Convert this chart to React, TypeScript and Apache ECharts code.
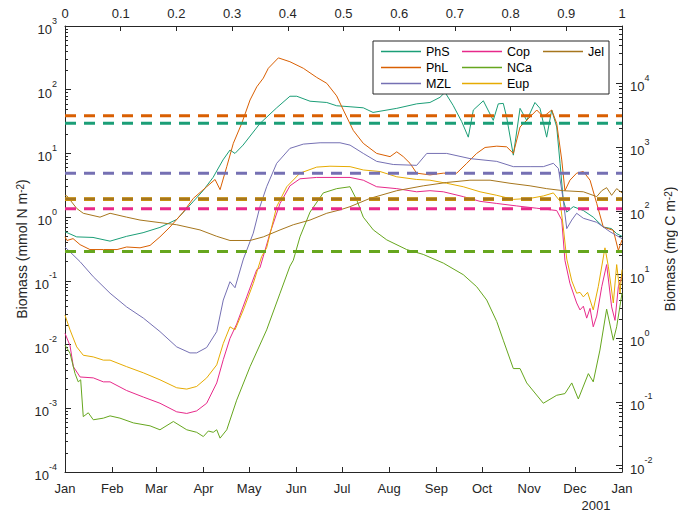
import React, { useEffect, useRef } from 'react';
import * as echarts from 'echarts';

// ---------- axis / tick data ----------
const monthLabels = ['Jan', 'Feb', 'Mar', 'Apr', 'May', 'Jun', 'Jul', 'Aug', 'Sep', 'Oct', 'Nov', 'Dec', 'Jan'];
const monthStartDays = [0, 31, 60, 91, 121, 152, 182, 213, 244, 274, 305, 335, 366];
const yearLabel = '2001';
const carbonPerNitrogen = 79.5; // mg C per mmol N

// ---------- series (day of year, mmol N m-2) ----------
const seriesNames = ['PhS', 'PhL', 'MZL', 'Cop', 'NCa', 'Eup', 'Jel'];
const seriesColors = ['#1b9e77', '#d95f02', '#7570b3', '#e7298a', '#66a61e', '#e6ab02', '#a6761d'];

const phs = [[0,0.59],[7.7,0.49],[18.4,0.48],[29.6,0.42],[40.5,0.5],[51.3,0.57],[62.4,0.69],[73.4,0.92],[84.1,1.74],[90.7,2.6],[97.3,4.2],[103.8,7.9],[108.4,11.3],[111.7,10],[117,13.5],[128.1,29.5],[139.1,52],[147.8,79],[152.3,79],[161,66],[172,63],[178.5,56],[187.3,54],[196,52],[202.4,44],[218,51],[231.1,60],[239.8,63],[246.4,76],[249.7,91],[255,57],[260.7,31.5],[265,18],[268.3,48],[274.9,67],[281.4,33],[284.7,60],[288,61],[290.2,37],[294.6,9.4],[299,51],[303.4,33],[308.8,63],[312.1,51],[316.5,18],[319.8,48],[323.1,26],[325.3,7],[327.4,1.86],[329.7,1.2],[334,1.46],[340.6,1.27],[347.1,1.0],[353.7,0.7],[359.2,0.66],[362.5,0.55],[366,0.5]];
const phl = [[0,0.49],[1.3,0.43],[5.3,0.46],[9.9,0.37],[16.4,0.31],[25.2,0.31],[34.2,0.31],[40.5,0.34],[49.3,0.33],[55.9,0.36],[62.4,0.49],[69,0.7],[77.7,1.2],[84.3,1.97],[93.1,3.0],[98.6,3.9],[101.9,2.7],[106.3,6.2],[110.6,14.4],[116.1,29.5],[121.6,69],[126,111],[130.3,152],[133.6,217],[140.2,316],[147.8,275],[156.6,217],[165.4,156],[172,126],[178.5,80],[182.9,48],[189.4,23],[196,14.4],[204.8,10],[213.6,8.9],[218,10.6],[222.3,8.9],[226.7,7],[231.1,4.9],[239.8,4.6],[248.6,4.9],[257.4,4.9],[264,7],[270.5,10],[276,12.4],[283.7,13],[290.2,12.7],[294.6,10],[299,26],[305.6,37.5],[310,48],[314.3,37.5],[319.8,48],[323.1,29.6],[326.4,7.9],[328.5,2.6],[331.8,3.8],[336.2,4.9],[340.6,5.2],[345,3.8],[349.4,1.64],[353.7,0.7],[360.3,0.62],[363.6,0.3],[366,0.44]];
const mzl = [[0,0.34],[9.9,0.2],[18.6,0.116],[29.6,0.064],[40.5,0.039],[51.5,0.026],[62.4,0.016],[73.4,0.0092],[82.1,0.0074],[86.5,0.0074],[93.1,0.009],[99.7,0.016],[104,0.05],[108.4,0.097],[111.7,0.078],[117.2,0.22],[123.7,0.56],[128.1,1.46],[132.5,3.0],[139.1,7.0],[147.8,12],[156.6,14],[167.6,14.7],[180.7,14.7],[187.3,13.5],[196,10],[204.8,7.5],[215.7,6.7],[231.1,6.5],[237.7,10],[250.8,10],[266.1,8.3],[283.7,7.5],[294.6,6.2],[305.6,6.2],[314.3,6.2],[320.9,7],[324.2,5.8],[327.4,1.86],[329.7,0.66],[333,0.9],[336.2,1.15],[340.6,0.96],[349.4,0.83],[358.1,0.59],[366,0.46]];
const cop = [[0,0.015],[3.3,0.0096],[5.5,0.0045],[9.9,0.0031],[18.6,0.003],[25.2,0.0026],[29.6,0.0026],[40.5,0.0019],[51.5,0.0015],[62.4,0.0012],[73.4,0.00088],[80,0.00083],[86.5,0.00091],[93.1,0.0012],[99.7,0.0025],[104,0.0058],[108.4,0.0125],[112.8,0.021],[119.4,0.056],[126,0.15],[128.1,0.16],[134.7,0.56],[141.3,1.64],[147.8,3.1],[154.4,4.0],[165.4,4.2],[180.7,4.2],[187.3,4.2],[196,3.8],[204.8,3.0],[218,2.8],[231.1,2.5],[239.8,2.6],[248.6,2.5],[261.7,2.1],[272.7,1.77],[283.7,1.64],[296.8,1.5],[310,1.38],[323.1,1.27],[326.4,0.9],[328.5,0.21],[331.8,0.091],[336.2,0.045],[338.4,0.035],[340.6,0.04],[342.8,0.026],[345,0.037],[347.1,0.019],[349.4,0.028],[352.7,0.081],[355.9,0.18],[359.2,0.039],[361.4,0.024],[363.6,0.081],[366,0.116]];
const nca = [[0,0.0098],[3.3,0.0073],[6.6,0.0035],[8.7,0.0026],[10.3,0.0028],[12,0.00074],[15.3,0.00085],[18.6,0.00066],[25.2,0.0007],[29.6,0.00076],[36.1,0.0007],[44.9,0.00059],[55.9,0.00053],[62.4,0.00046],[71.2,0.00062],[80,0.00046],[86.5,0.00042],[90.9,0.00036],[94.2,0.00044],[97.4,0.00042],[99.7,0.00046],[101.9,0.00034],[106.3,0.00046],[112.8,0.00134],[121.6,0.0045],[132.5,0.017],[141.3,0.064],[147.8,0.17],[150,0.21],[154.4,0.49],[161,1.2],[169.7,2.4],[178.5,2.8],[187.3,3.0],[191.7,1.86],[196,1.0],[202.6,0.63],[211.4,0.44],[224.5,0.31],[235.4,0.26],[248.6,0.19],[261.7,0.125],[270.5,0.081],[277.1,0.05],[283.7,0.023],[288,0.0117],[294.6,0.0042],[299,0.0042],[303.4,0.0025],[314.3,0.0012],[323.1,0.0016],[328.5,0.0017],[333,0.0025],[337.3,0.0014],[343.9,0.0035],[347.1,0.0026],[351.5,0.0082],[355.9,0.036],[360.3,0.0117],[362.5,0.019],[366,0.064]];
const eup = [[0,0.029],[3.3,0.017],[7.7,0.0092],[12,0.0068],[18.6,0.0064],[25.2,0.0057],[29.6,0.0057],[40.5,0.0045],[51.5,0.0036],[62.4,0.0028],[73.4,0.0021],[80,0.002],[86.5,0.0022],[93.1,0.003],[99.7,0.0048],[104,0.0104],[108.4,0.019],[111.7,0.017],[117.2,0.035],[123.7,0.091],[129.2,0.24],[132.5,0.33],[139.1,1.46],[145.7,3.0],[154.4,4.9],[165.4,6.1],[174.1,6.3],[187.3,6.2],[196,5.5],[207,5.2],[218,4.3],[231.1,3.9],[239.8,3.8],[250.8,3.4],[261.7,3.0],[272.7,2.5],[283.7,2.2],[294.6,1.9],[305.6,1.97],[314.3,2.15],[320.9,2.4],[325.3,1.78],[327.4,0.7],[329.7,0.22],[333,0.1],[336.2,0.064],[338.4,0.066],[340.6,0.056],[343.4,0.066],[347.1,0.035],[350.4,0.081],[354.8,0.33],[357,0.17],[360.3,0.045],[362.5,0.18],[364.7,0.064],[366,0.15]];
const jel = [[0,2.2],[1.3,2.15],[7.7,1.37],[12,1.15],[23,1.0],[29.6,1.15],[40.5,1.0],[49.3,0.9],[62.4,0.82],[73.4,0.76],[88.7,0.63],[99.7,0.5],[108.4,0.43],[121.6,0.43],[130.3,0.49],[141.3,0.63],[150,0.76],[161,0.9],[172,1.15],[180.7,1.3],[187.3,1.46],[200.4,1.97],[218,2.6],[235.4,3.1],[250.8,3.5],[266.1,3.8],[279.3,3.8],[292.4,3.4],[305.6,3.1],[316.5,2.8],[327.4,2.6],[340.6,2.5],[349.4,2.1],[352.7,2.6],[355.9,2.9],[359.2,2.2],[362.5,2.8],[366,2.4]];
const seriesData = [phs, phl, mzl, cop, nca, eup, jel];

// ---------- dashed reference levels (mmol N m-2) ----------
const thresholdOrder = ['NCa', 'Cop', 'Eup', 'Jel', 'MZL', 'PhS', 'PhL'];
const thresholdValues = [0.29, 1.36, 1.92, 1.92, 4.9, 29.7, 39];

const FONT = "'Liberation Sans', Arial, Helvetica, sans-serif";
const TXT = '#262626';

const supRich = {
  b: { fontSize: 13, fontFamily: FONT, color: TXT, lineHeight: 20, verticalAlign: 'bottom' },
  s: { fontSize: 9, fontFamily: FONT, color: TXT, lineHeight: 10, verticalAlign: 'top' },
};

function logTicks(lo: number, hi: number, minor: boolean): number[] {
  const out: number[] = [];
  for (let n = Math.floor(lo) - 1; n <= Math.ceil(hi); n++) {
    for (let k = 1; k <= 9; k++) {
      if (minor && k === 1) continue;
      if (!minor && k !== 1) continue;
      const v = Math.log10(k * Math.pow(10, n));
      if (v >= lo - 1e-9 && v <= hi + 1e-9) out.push(v);
    }
  }
  return out;
}

export default function App() {
  const ref = useRef<HTMLDivElement>(null);
  useEffect(() => {
    if (!ref.current) return;
    const chart = echarts.init(ref.current, undefined, { renderer: 'svg' });
    const leftLo = -4, leftHi = 3;
    const rightLo = Math.log10(1e-4 * carbonPerNitrogen);
    const rightHi = Math.log10(1e3 * carbonPerNitrogen);
    const tickLine = { color: TXT, width: 1 };

    const lineSeries = seriesNames.map((name, i) => ({
      name,
      type: 'line',
      data: seriesData[i],
      xAxisIndex: 0,
      yAxisIndex: 0,
      symbol: 'none',
      lineStyle: { width: 1, color: seriesColors[i] },
      itemStyle: { color: seriesColors[i] },
      z: 2,
    }));
    const dashSeries = thresholdOrder.map((name, i) => {
      const ci = seriesNames.indexOf(name);
      return {
        name: name + ' level',
        type: 'line',
        data: [[0, thresholdValues[i]], [366, thresholdValues[i]]],
        xAxisIndex: 0,
        yAxisIndex: 0,
        symbol: 'none',
        silent: true,
        lineStyle: { width: name === 'Eup' ? 3.6 : 3, color: seriesColors[ci], type: [11, 8] },
        z: 3,
      };
    });

    chart.setOption({
      animation: false,
      backgroundColor: '#ffffff',
      grid: { left: 65, right: 56, top: 26, bottom: 40, containLabel: false, outerBoundsMode: 'none' },
      legend: {
        data: seriesNames.map((n) => (n === 'Jel' ? { name: n, textStyle: { width: 16 } } : n)),
        orient: 'vertical',
        left: 373,
        top: 41,
        height: 50,
        icon: 'rect',
        itemWidth: 40,
        itemHeight: 1.3,
        itemGap: 3,
        padding: [4, 5, 4, 8],
        borderColor: TXT,
        borderWidth: 1,
        backgroundColor: '#ffffff',
        textStyle: { fontSize: 12.5, lineHeight: 12, width: 33, color: '#000', fontFamily: FONT },
      },
      xAxis: [
        {
          type: 'value', position: 'bottom', min: 0, max: 366,
          axisLine: { onZero: false, lineStyle: tickLine },
          axisTick: { inside: true, length: 5, customValues: monthStartDays, lineStyle: tickLine },
          axisLabel: {
            customValues: monthStartDays, margin: 10, fontSize: 13, color: TXT, fontFamily: FONT,
            formatter: (v: number) => monthLabels[monthStartDays.indexOf(Math.round(v))] ?? '',
          },
          splitLine: { show: false },
        },
        {
          type: 'value', position: 'top', min: 0, max: 1, interval: 0.1,
          axisLine: { onZero: false, lineStyle: tickLine },
          axisTick: { inside: true, length: 5, lineStyle: tickLine },
          axisLabel: { margin: 6, fontSize: 13, color: TXT, fontFamily: FONT,
            formatter: (v: number) => String(Math.round(v * 10) / 10) },
          splitLine: { show: false },
        },
      ],
      yAxis: [
        {
          type: 'log', logBase: 10, min: 1e-4, max: 1e3, position: 'left',
          axisLine: { show: true, onZero: false, lineStyle: tickLine },
          axisTick: { inside: true, length: 6, lineStyle: tickLine },
          axisLabel: { margin: 8, rich: supRich,
            formatter: (v: number) => `{b|10}{s|${Math.round(Math.log10(v))}}` },
          splitLine: { show: false },
          minorTick: { show: false },
          name: 'Biomass (mmol N m{s|-2})',
          nameLocation: 'middle', nameRotate: 90, nameGap: 36, nameMoveOverlap: false,
          nameTextStyle: { fontSize: 14, color: TXT, fontFamily: FONT,
            rich: { s: { fontSize: 10, fontFamily: FONT, color: TXT, verticalAlign: 'top', lineHeight: 10 } } },
        },
        {
          type: 'value', min: leftLo, max: leftHi, position: 'left',
          axisLine: { show: false, onZero: false },
          axisTick: { inside: true, length: 3, customValues: logTicks(leftLo, leftHi, true), lineStyle: tickLine },
          axisLabel: { show: false },
          splitLine: { show: false },
        },
        {
          type: 'value', min: rightLo, max: rightHi, position: 'right',
          axisLine: { show: true, onZero: false, lineStyle: tickLine },
          axisTick: { inside: true, length: 6, customValues: logTicks(rightLo, rightHi, false), lineStyle: tickLine },
          axisLabel: { margin: 8, rich: supRich, customValues: logTicks(rightLo, rightHi, false),
            formatter: (v: number) => `{b|10}{s|${Math.round(v)}}` },
          splitLine: { show: false },
          name: 'Biomass (mg C m{s|-2})',
          nameLocation: 'middle', nameRotate: 90, nameGap: 39,
          nameTextStyle: { fontSize: 14, color: TXT, fontFamily: FONT,
            rich: { s: { fontSize: 10, fontFamily: FONT, color: TXT, verticalAlign: 'top', lineHeight: 10 } } },
        },
        {
          type: 'value', min: rightLo, max: rightHi, position: 'right',
          axisLine: { show: false, onZero: false },
          axisTick: { inside: true, length: 3, customValues: logTicks(rightLo, rightHi, true), lineStyle: tickLine },
          axisLabel: { show: false },
          splitLine: { show: false },
        },
      ],
      graphic: [
        { type: 'text', x: 596, y: 505,
          style: { text: yearLabel, fontSize: 13, fontFamily: FONT, fill: TXT, align: 'center', verticalAlign: 'middle' } },
      ],
      series: [...lineSeries, ...dashSeries],
    });
    return () => chart.dispose();
  }, []);
  return <div ref={ref} style={{ position: 'absolute', left: 0, top: 0, width: 678, height: 512 }} />;
}
